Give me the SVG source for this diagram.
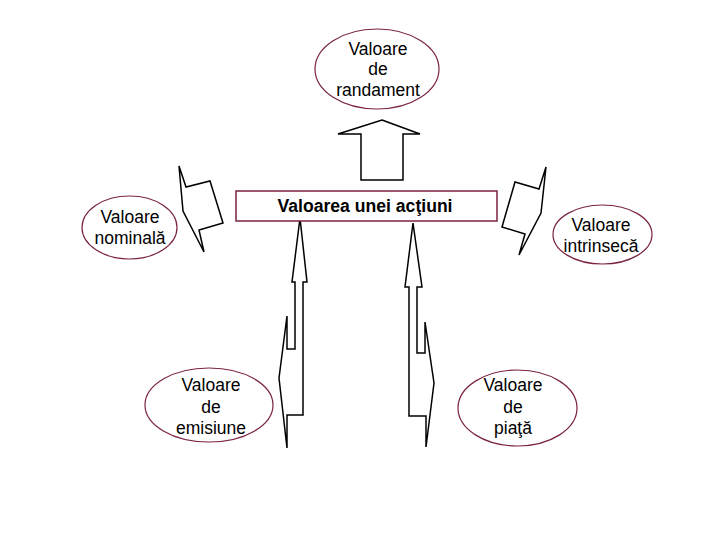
<svg xmlns="http://www.w3.org/2000/svg" width="720" height="540" viewBox="0 0 720 540">
<style>
.ell{fill:#fff;stroke:#7a2343;stroke-width:1.2}
.box{fill:#fff;stroke:#7a2343;stroke-width:1.5}
.arr{fill:#fff;stroke:#000;stroke-width:1.5;stroke-linejoin:miter}
text{font-family:"Liberation Sans",Arial,sans-serif;font-size:17.5px;fill:#000;text-anchor:middle}
.b{font-weight:bold;font-size:17.6px}
</style>
<rect width="720" height="540" fill="#fff"/>
<g id="connectors">
<polygon class="arr" points="382,120 420,134 403,134 403,180 361,180 361,134 338,134"/>
<polygon class="arr" points="179,166 186,187 210,181 223,223 199,230 204,252 183,211"/>
<polygon class="arr" points="546,167 539,189 515,182 502,227 525,234 519,255 541,213"/>
<polygon class="arr" points="300,218 307,282 303,282 303,415 287,415 287,448 279,378 287,316 287,349 295,349 295,282 292,282"/>
<polygon class="arr" points="413,223 422,287 417,287 417,353 425,353 425,322 434,383 426,447 426,416 409,416 409,287 405,287"/>
</g>
<g id="n-randament">
<ellipse class="ell" cx="377" cy="69" rx="62" ry="40"/>
<text x="378" y="55">Valoare</text>
<text x="378" y="75">de</text>
<text x="378" y="96">randament</text>
</g>
<g id="n-actiune">
<rect class="box" x="236" y="191" width="261" height="30"/>
<text class="b" x="365" y="212">Valoarea unei acţiuni</text>
</g>
<g id="n-nominala">
<ellipse class="ell" cx="129.5" cy="227.5" rx="47.5" ry="31.5"/>
<text x="130" y="223">Valoare</text>
<text x="130" y="244">nominală</text>
</g>
<g id="n-intrinseca">
<ellipse class="ell" cx="602.5" cy="234.5" rx="49.5" ry="29.5"/>
<text x="601" y="231">Valoare</text>
<text x="601" y="252">intrinsecă</text>
</g>
<g id="n-emisiune">
<ellipse class="ell" cx="209" cy="405" rx="64" ry="37"/>
<text x="211" y="391">Valoare</text>
<text x="211" y="413">de</text>
<text x="211" y="434">emisiune</text>
</g>
<g id="n-piata">
<ellipse class="ell" cx="517.5" cy="408" rx="59.5" ry="38"/>
<text x="513" y="391">Valoare</text>
<text x="513" y="413">de</text>
<text x="513" y="434">piaţă</text>
</g>
</svg>
